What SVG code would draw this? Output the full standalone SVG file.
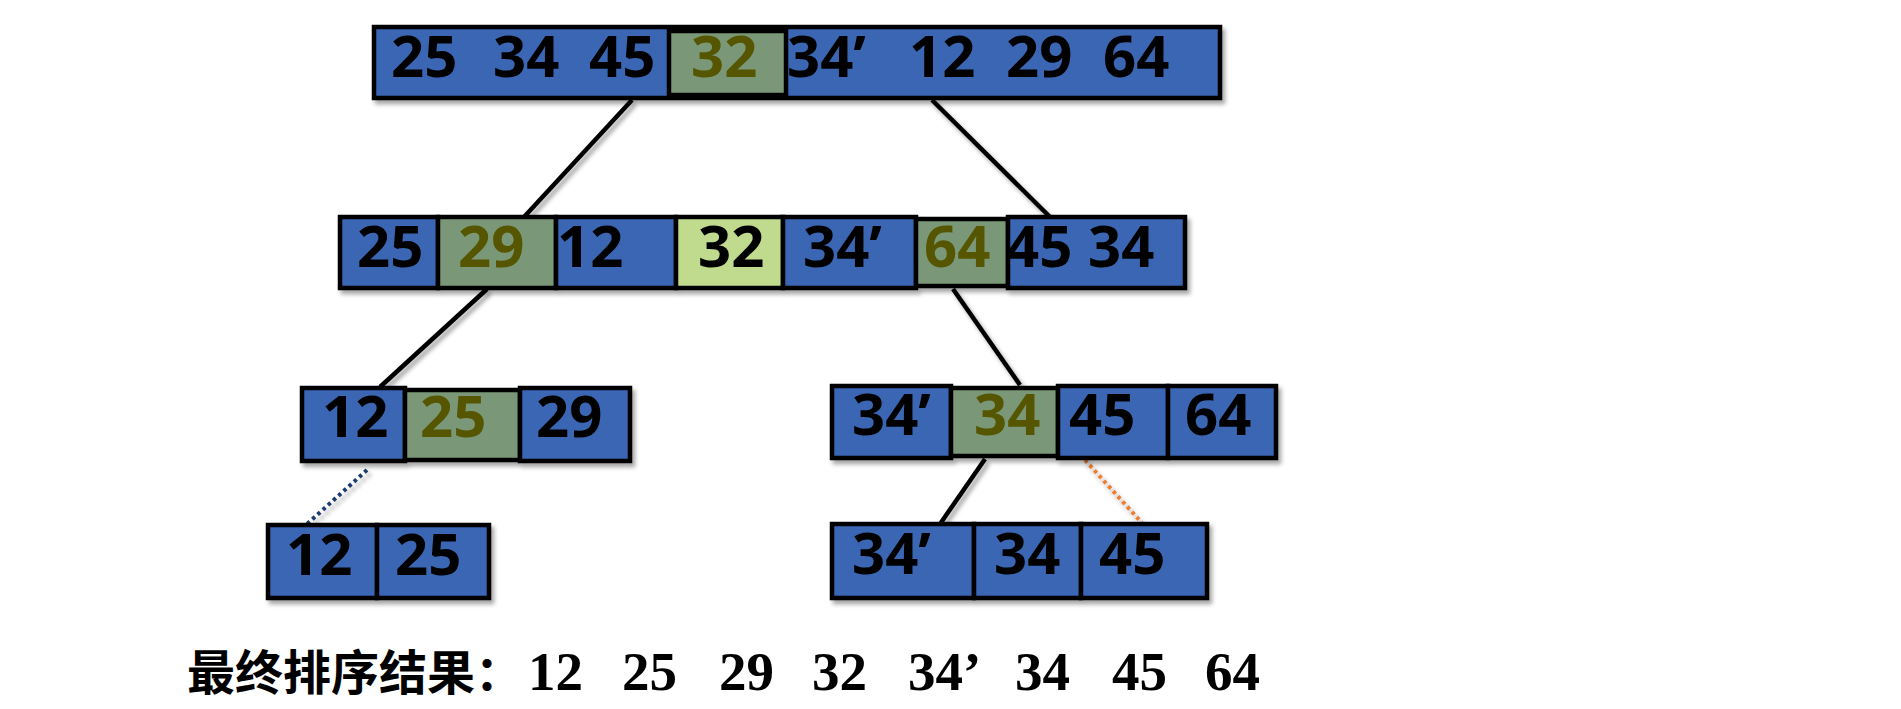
<svg xmlns="http://www.w3.org/2000/svg" width="1901" height="709" viewBox="0 0 1901 709">
<defs>
<filter id="sh" x="-10%" y="-20%" width="130%" height="160%">
<feDropShadow dx="3" dy="4" stdDeviation="2" flood-color="#000" flood-opacity="0.35"/>
</filter>
<style>
.b{fill:#3A66B4;stroke:#000;stroke-width:4.5}
.g{fill:#7A9878;stroke:#000;stroke-width:4.5}
.lg{fill:#C0DB8E;stroke:#000;stroke-width:4.5}
.t{font-family:"Noto Sans","Open Sans",sans-serif;font-weight:700;font-size:58px;fill:#000}
.o{fill:#565600}
.ln{stroke:#000;stroke-width:4.5;fill:none}
.res{font-family:"Liberation Serif",serif;font-weight:700;font-size:55px;fill:#000}
.cn{font-family:"Noto Sans CJK SC",sans-serif;font-weight:700;font-size:48px;fill:#000}
</style>
</defs>
<rect width="1901" height="709" fill="#fff"/>
<g id="connectors" filter="url(#sh)">
<line class="ln" x1="632" y1="100" x2="524" y2="217"/>
<line class="ln" x1="932" y1="100" x2="1050" y2="217"/>
<line class="ln" x1="487" y1="289" x2="380" y2="387"/>
<line class="ln" x1="953" y1="289" x2="1020" y2="385"/>
<line x1="367" y1="470" x2="307" y2="524" stroke="#1F3A70" stroke-width="4" stroke-dasharray="3.5 3.5"/>
<line class="ln" x1="985" y1="459" x2="940" y2="524"/>
<line x1="1085" y1="460" x2="1142" y2="523" stroke="#ED7D31" stroke-width="4" stroke-dasharray="3.5 3.5"/>
</g>
<g id="row1" filter="url(#sh)">
<rect class="b" x="374" y="27" width="846" height="71"/>
<rect class="g" x="669" y="31" width="117" height="64"/>
<text class="t" y="77"><tspan x="391">25</tspan><tspan x="493">34</tspan><tspan x="589">45</tspan><tspan x="691" class="o">32</tspan><tspan x="787">34’</tspan><tspan x="909">12</tspan><tspan x="1006">29</tspan><tspan x="1103">64</tspan></text>
</g>
<g id="row2" filter="url(#sh)">
<rect class="b" x="340" y="217" width="98" height="71"/>
<rect class="g" x="438" y="217" width="118" height="71"/>
<rect class="b" x="556" y="217" width="120" height="71"/>
<rect class="lg" x="676" y="217" width="107" height="71"/>
<rect class="b" x="783" y="217" width="133" height="71"/>
<rect class="g" x="916" y="219" width="92" height="67"/>
<rect class="b" x="1008" y="217" width="177" height="71"/>
<text class="t" y="267"><tspan x="357">25</tspan><tspan x="458" class="o">29</tspan><tspan x="557">12</tspan><tspan x="698">32</tspan><tspan x="803">34’</tspan><tspan x="924" class="o">64</tspan><tspan x="1006">45</tspan><tspan x="1088">34</tspan></text>
</g>
<g id="row3-left" filter="url(#sh)">
<rect class="b" x="302" y="388" width="103" height="73"/>
<rect class="g" x="405" y="390" width="115" height="70"/>
<rect class="b" x="520" y="388" width="110" height="73"/>
<text class="t" y="437"><tspan x="322">12</tspan><tspan x="420" class="o">25</tspan><tspan x="536">29</tspan></text>
</g>
<g id="row3-right" filter="url(#sh)">
<rect class="b" x="832" y="386" width="119" height="72"/>
<rect class="g" x="951" y="388" width="107" height="68"/>
<rect class="b" x="1058" y="386" width="110" height="72"/>
<rect class="b" x="1168" y="386" width="108" height="72"/>
<text class="t" y="435"><tspan x="852">34’</tspan><tspan x="974" class="o">34</tspan><tspan x="1069">45</tspan><tspan x="1185">64</tspan></text>
</g>
<g id="row4-left" filter="url(#sh)">
<rect class="b" x="268" y="525" width="109" height="73"/>
<rect class="b" x="377" y="525" width="112" height="73"/>
<text class="t" y="575"><tspan x="286">12</tspan><tspan x="395">25</tspan></text>
</g>
<g id="row4-right" filter="url(#sh)">
<rect class="b" x="832" y="524" width="142" height="74"/>
<rect class="b" x="974" y="524" width="107" height="74"/>
<rect class="b" x="1081" y="524" width="126" height="74"/>
<text class="t" y="574"><tspan x="852">34’</tspan><tspan x="994">34</tspan><tspan x="1099">45</tspan></text>
</g>
<g id="result">
<text class="cn" x="187" y="690">最终排序结果：</text>
<text class="res" y="690"><tspan x="528">12</tspan><tspan x="622">25</tspan><tspan x="719">29</tspan><tspan x="812">32</tspan><tspan x="908">34’</tspan><tspan x="1015">34</tspan><tspan x="1112">45</tspan><tspan x="1205">64</tspan></text>
</g>
</svg>
